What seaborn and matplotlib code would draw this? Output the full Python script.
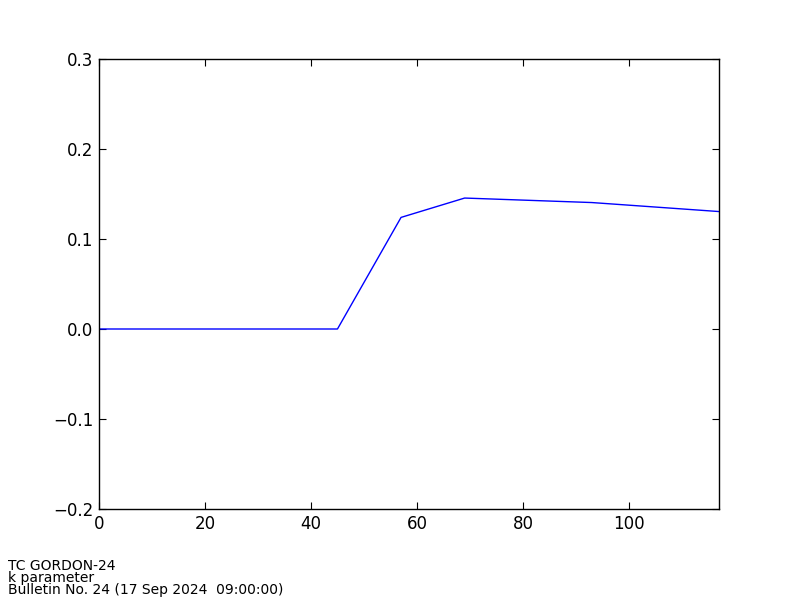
import pandas as pd
import matplotlib
matplotlib.use("Agg")
import matplotlib.pyplot as plt
import seaborn as sns

# Values
hours = [0, 45, 57, 69, 93, 117]
k_param = [0.0, 0.0, 0.124, 0.1455, 0.1405, 0.1305]

labels = ["TC GORDON-24", "k parameter", "Bulletin No. 24 (17 Sep 2024  09:00:00)"]

df = pd.DataFrame({"hour": hours, "k": k_param})

sns.set_theme(style="white")
plt.rcParams["font.family"] = ["DejaVu Sans"]
plt.rcParams["text.color"] = "black"

fig = plt.figure(figsize=(8, 6), dpi=100)
ax = fig.add_axes([99 / 800, 91 / 600, 620 / 800, 450 / 600])

sns.lineplot(data=df, x="hour", y="k", color="#0000ff", linewidth=1, ax=ax)

ax.set_xlim(0, 117)
ax.set_ylim(-0.2, 0.3)
ax.set_xticks([0, 20, 40, 60, 80, 100])
ax.set_yticks([-0.2, -0.1, 0.0, 0.1, 0.2, 0.3])
ax.set_xlabel("")
ax.set_ylabel("")

for side in ax.spines.values():
    side.set_color("black")
    side.set_linewidth(1)

ax.tick_params(axis="both", which="major", direction="in", length=5, width=0.8,
               color="black", labelsize=12, labelcolor="black", pad=4,
               top=True, right=True, bottom=True, left=True)

# footer lines overlap slightly, as in the original
ypos = [570, 582, 594]
for txt, yp in zip(labels, ypos):
    fig.text(8 / 800, 1 - yp / 600, txt, fontsize=10, va="baseline", ha="left",
             color="black")

fig.savefig("out.png", dpi=100, facecolor="white")
